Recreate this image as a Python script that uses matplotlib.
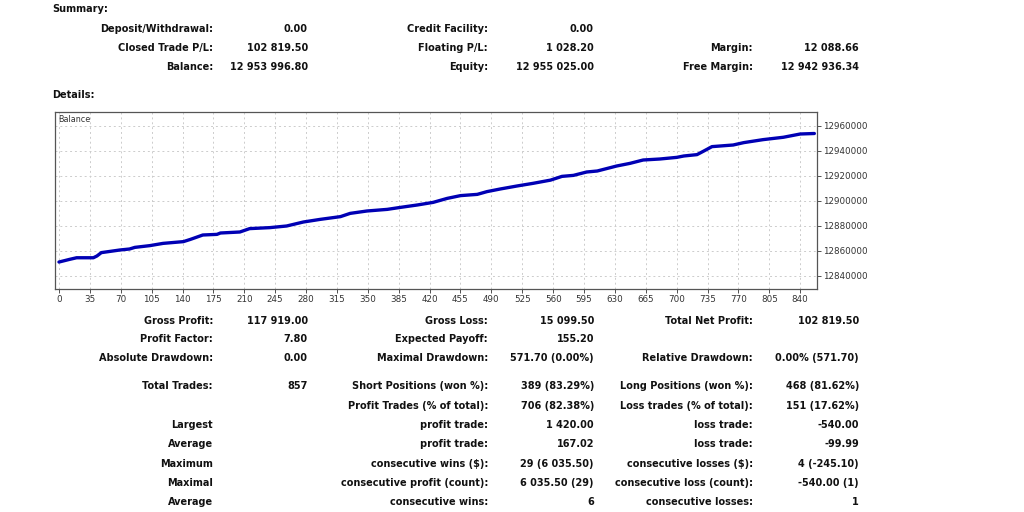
import matplotlib.pyplot as plt
from matplotlib.ticker import FuncFormatter

# balance curve (trade number, balance)
trades = [0, 12, 20, 39, 43, 48, 69, 80, 86, 103, 118, 141, 149, 163, 179, 183,
          205, 216, 239, 258, 277, 296, 319, 330, 349, 372, 387, 406, 424, 440,
          455, 474, 485, 500, 519, 537, 557, 570, 583, 598, 610, 632, 647, 662,
          681, 700, 708, 723, 730, 740, 764, 776, 798, 821, 840, 856]
balance = [12851177, 12853300, 12854600, 12854600, 12856000, 12858700, 12860800,
           12861600, 12862900, 12864300, 12866100, 12867500, 12869300, 12872800,
           12873300, 12874400, 12875200, 12877900, 12878700, 12880000, 12883200,
           12885300, 12887500, 12890100, 12892000, 12893300, 12894900, 12896800,
           12898900, 12902100, 12904300, 12905300, 12907500, 12909600, 12912000,
           12914100, 12916700, 12919700, 12920500, 12923200, 12924000, 12928000,
           12930100, 12932800, 12933600, 12934900, 12936000, 12937100, 12939700,
           12943500, 12944800, 12946700, 12949100, 12951000, 12953600, 12953997]

summary_rows = [
    ("Deposit/Withdrawal:", "0.00", "Credit Facility:", "0.00", "", ""),
    ("Closed Trade P/L:", "102 819.50", "Floating P/L:", "1 028.20", "Margin:", "12 088.66"),
    ("Balance:", "12 953 996.80", "Equity:", "12 955 025.00", "Free Margin:", "12 942 936.34"),
]
details_rows = [
    ("Gross Profit:", "117 919.00", "Gross Loss:", "15 099.50", "Total Net Profit:", "102 819.50"),
    ("Profit Factor:", "7.80", "Expected Payoff:", "155.20", "", ""),
    ("Absolute Drawdown:", "0.00", "Maximal Drawdown:", "571.70 (0.00%)", "Relative Drawdown:", "0.00% (571.70)"),
    ("Total Trades:", "857", "Short Positions (won %):", "389 (83.29%)", "Long Positions (won %):", "468 (81.62%)"),
    ("", "", "Profit Trades (% of total):", "706 (82.38%)", "Loss trades (% of total):", "151 (17.62%)"),
    ("Largest", "", "profit trade:", "1 420.00", "loss trade:", "-540.00"),
    ("Average", "", "profit trade:", "167.02", "loss trade:", "-99.99"),
    ("Maximum", "", "consecutive wins ($):", "29 (6 035.50)", "consecutive losses ($):", "4 (-245.10)"),
    ("Maximal", "", "consecutive profit (count):", "6 035.50 (29)", "consecutive loss (count):", "-540.00 (1)"),
    ("Average", "", "consecutive wins:", "6", "consecutive losses:", "1"),
]

W, H = 1024, 512
fig = plt.figure(figsize=(W / 100, H / 100), dpi=100)
fig.patch.set_facecolor("white")

col_x = [213, 308, 488, 594, 753, 859]
txt = dict(fontsize=7.0, fontweight="bold", color="#111111", va="center", ha="right")


def put_row(row, y):
    for x, s in zip(col_x, row):
        if s:
            fig.text(x / W, 1 - y / H, s, **txt)


fig.text(52 / W, 1 - 9 / H, "Summary:", fontsize=7.0, fontweight="bold",
         color="#111111", va="center", ha="left")
for row, y in zip(summary_rows, [29, 48, 67]):
    put_row(row, y)
fig.text(52 / W, 1 - 95 / H, "Details:", fontsize=7.0, fontweight="bold",
         color="#111111", va="center", ha="left")
for row, y in zip(details_rows, [321, 339, 358, 386, 406, 425, 444, 464, 483, 502]):
    put_row(row, y)

# balance chart
ax = fig.add_axes([55 / W, 1 - 289 / H, 762 / W, 177 / H])
ax.plot(trades, balance, color="#0000b4", lw=2.4, solid_capstyle="round")
ax.set_xlim(-4.5, 859)
ax.set_ylim(12829600, 12971200)
ax.set_xticks(range(0, 841, 35))
ax.set_yticks(range(12840000, 12960001, 20000))
ax.yaxis.tick_right()
ax.yaxis.set_major_formatter(FuncFormatter(lambda v, p: "%d" % v))
ax.tick_params(labelsize=6.3, colors="#333333", length=3, width=0.6, pad=1.5)
ax.grid(True, color="#cccccc", ls=(0, (2, 3)), lw=0.7)
for s in ax.spines.values():
    s.set_color("#555555")
    s.set_linewidth(0.9)
ax.text(0.004, 0.985, "Balance", transform=ax.transAxes, fontsize=5.8,
        color="#333333", va="top", ha="left")

fig.savefig("out.png", dpi=100, facecolor="white")
